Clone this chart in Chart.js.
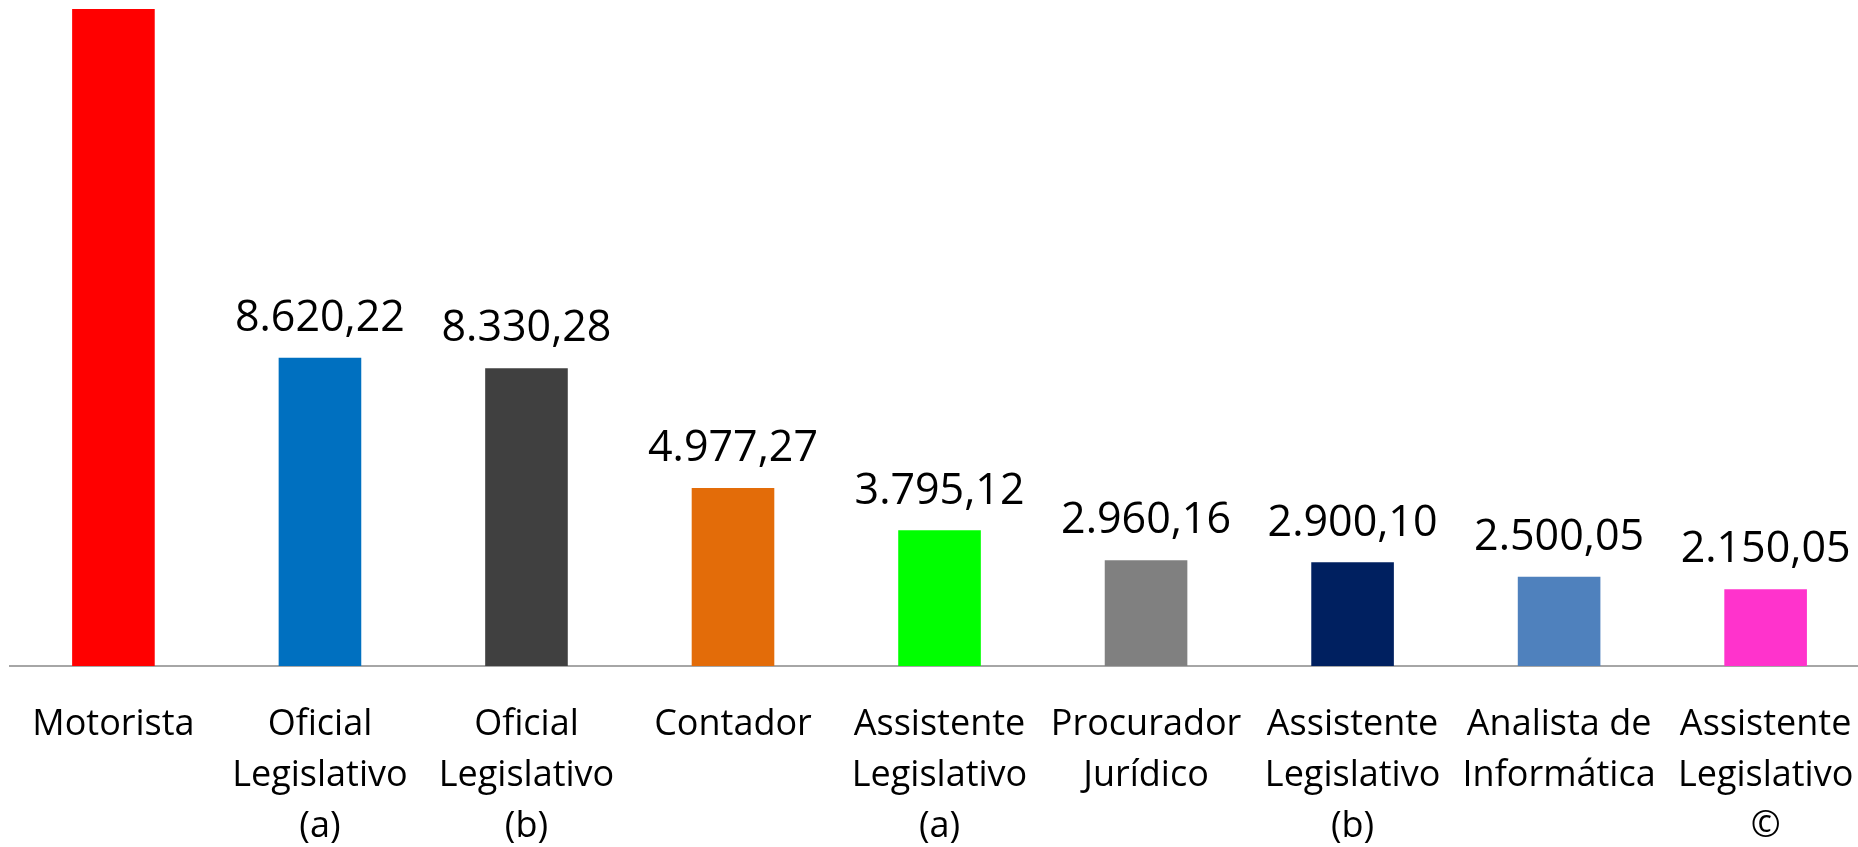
<!DOCTYPE html>
<html>
<head>
<meta charset="utf-8">
<script src="https://cdn.jsdelivr.net/npm/chart.js@4.4.0/dist/chart.umd.min.js"></script>
<style>
  html, body { margin: 0; padding: 0; background: #fff; overflow: hidden; }
  #wrap { position: relative; width: 1886px; height: 847px; }
</style>
</head>
<body>
<div id="wrap"><canvas id="bar_chart"></canvas></div>
<script>
// dados do gráfico
var categorias = [
  'Motorista',
  ['Oficial', 'Legislativo', '(a)'],
  ['Oficial', 'Legislativo', '(b)'],
  'Contador',
  ['Assistente', 'Legislativo', '(a)'],
  ['Procurador', 'Jurídico'],
  ['Assistente', 'Legislativo', '(b)'],
  ['Analista de', 'Informática'],
  ['Assistente', 'Legislativo', '©']
];
var salarios = [18380, 8620.22, 8330.28, 4977.27, 3795.12, 2960.16, 2900.10, 2500.05, 2150.05];
var cores = ['#FF0000', '#0070C0', '#404040', '#E36C09', '#00FF00', '#808080', '#002060', '#4F81BD', '#FF33CC'];
var yMax = 18630;

// formato brasileiro: 8.620,22
function formatarValor(v) {
  return v.toLocaleString('pt-BR', { minimumFractionDigits: 2, maximumFractionDigits: 2 });
}

// rótulos acima das barras
var rotulosPlugin = {
  id: 'rotulos',
  afterDatasetsDraw: function(chart) {
    var ctx = chart.ctx;
    var meta = chart.getDatasetMeta(0);
    ctx.save();
    ctx.font = '43px "Open Sans"';
    ctx.fillStyle = '#000';
    ctx.textAlign = 'center';
    ctx.textBaseline = 'middle';
    meta.data.forEach(function(bar, i) {
      ctx.fillText(formatarValor(salarios[i]), bar.x, bar.y - 39);
    });
    ctx.restore();
  }
};

var context = document.getElementById('bar_chart').getContext('2d');
var myChart = new Chart(context, {
  type: 'bar',
  data: {
    labels: categorias,
    datasets: [{
      data: salarios,
      backgroundColor: cores,
      borderWidth: 0,
      barPercentage: 0.4,
      categoryPercentage: 1.0
    }]
  },
  options: {
    responsive: true,
    maintainAspectRatio: false,
    animation: false,
    layout: { padding: { left: 4, right: 0, top: 0, bottom: 0 } },
    scales: {
      x: {
        grid: { display: false, drawTicks: false },
        border: { display: true, color: '#A6A6A6', width: 2 },
        ticks: {
          color: '#000',
          font: { family: 'Open Sans', size: 36, lineHeight: 1.42 },
          padding: 33,
          maxRotation: 0,
          autoSkip: false
        },
        afterFit: function(scale) { scale.height = 181; }
      },
      y: {
        display: false,
        min: 0,
        max: yMax
      }
    },
    plugins: {
      legend: { display: false },
      tooltip: { enabled: false }
    }
  },
  plugins: [rotulosPlugin]
});
</script>
</body>
</html>
